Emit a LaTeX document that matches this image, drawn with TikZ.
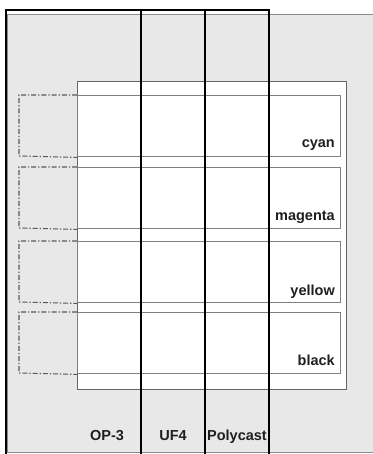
\documentclass[tikz,border=0pt]{standalone}
\usepackage{fontspec}
\setmainfont{Liberation Sans}
\begin{document}
\begin{tikzpicture}[x=1pt,y=-1pt,
  bg/.style={fill=black!9,draw=black!45,line width=1pt},
  outerbox/.style={fill=white,draw=black!60,line width=1pt},
  rowbox/.style={draw=black!50,fill=white,line width=1.4pt,minimum width=263pt,minimum height=61pt,inner sep=0pt,anchor=north west},
  ghost/.style={draw=black!65,line width=1.1pt,dash pattern=on 5pt off 2pt on 1.2pt off 2pt},
  bar/.style={draw=black,line width=2pt},
  lab/.style={font=\fontsize{14.5}{17}\selectfont\bfseries,inner sep=0pt,text=black!88}]
\useasboundingbox (0,0) rectangle (372,454);
% background sheet
\fill[white] (0,0) rectangle (372,454);
\path[bg] (7,15) rectangle (373,452);
% outer white frame
\node[outerbox,minimum width=269pt,minimum height=308pt,inner sep=0pt,anchor=north west] (frame) at (77,81) {};
% rows
\node[rowbox] (r1) at (77,95) {};
\node[rowbox] (r2) at (77,167) {};
\node[rowbox] (r3) at (77,241) {};
\node[rowbox] (r4) at (77,312) {};
% dash-dot ghosts
\foreach \r in {r1,r2,r3,r4}{
  \draw[ghost] (\r.north west) -- ++(-58,0) -- ++(0,61) -- (\r.south west);
}
% labels
\node[lab,anchor=base east] (lc) at (335,148) {cyan};
\node[lab,anchor=base east] (lm) at (335,220) {magenta};
\node[lab,anchor=base east] (ly) at (335,295) {yellow};
\node[lab,anchor=base east] (lk) at (335,365) {black};
% black frame of the three media
\coordinate (t0) at (6,10);
\coordinate (t1) at (141,10);
\coordinate (t2) at (205,10);
\coordinate (t3) at (269,10);
\coordinate (b0) at (6,455);
\coordinate (b1) at (141,455);
\coordinate (b2) at (205,455);
\coordinate (b3) at (269,455);
\fill[white] (7,11) rectangle (268,14.5);
\draw[bar] (b0) -- (t0) -- (t3) -- (b3);
\draw[bar] (t1) -- (b1);
\draw[bar] (t2) -- (b2);
% bottom labels
\node[lab,anchor=base] (op) at (107,440) {OP-3};
\node[lab,anchor=base] (uf) at (173,440) {UF4};
\node[lab,anchor=base] (pc) at (237,440) {Polycast};
\end{tikzpicture}
\end{document}
